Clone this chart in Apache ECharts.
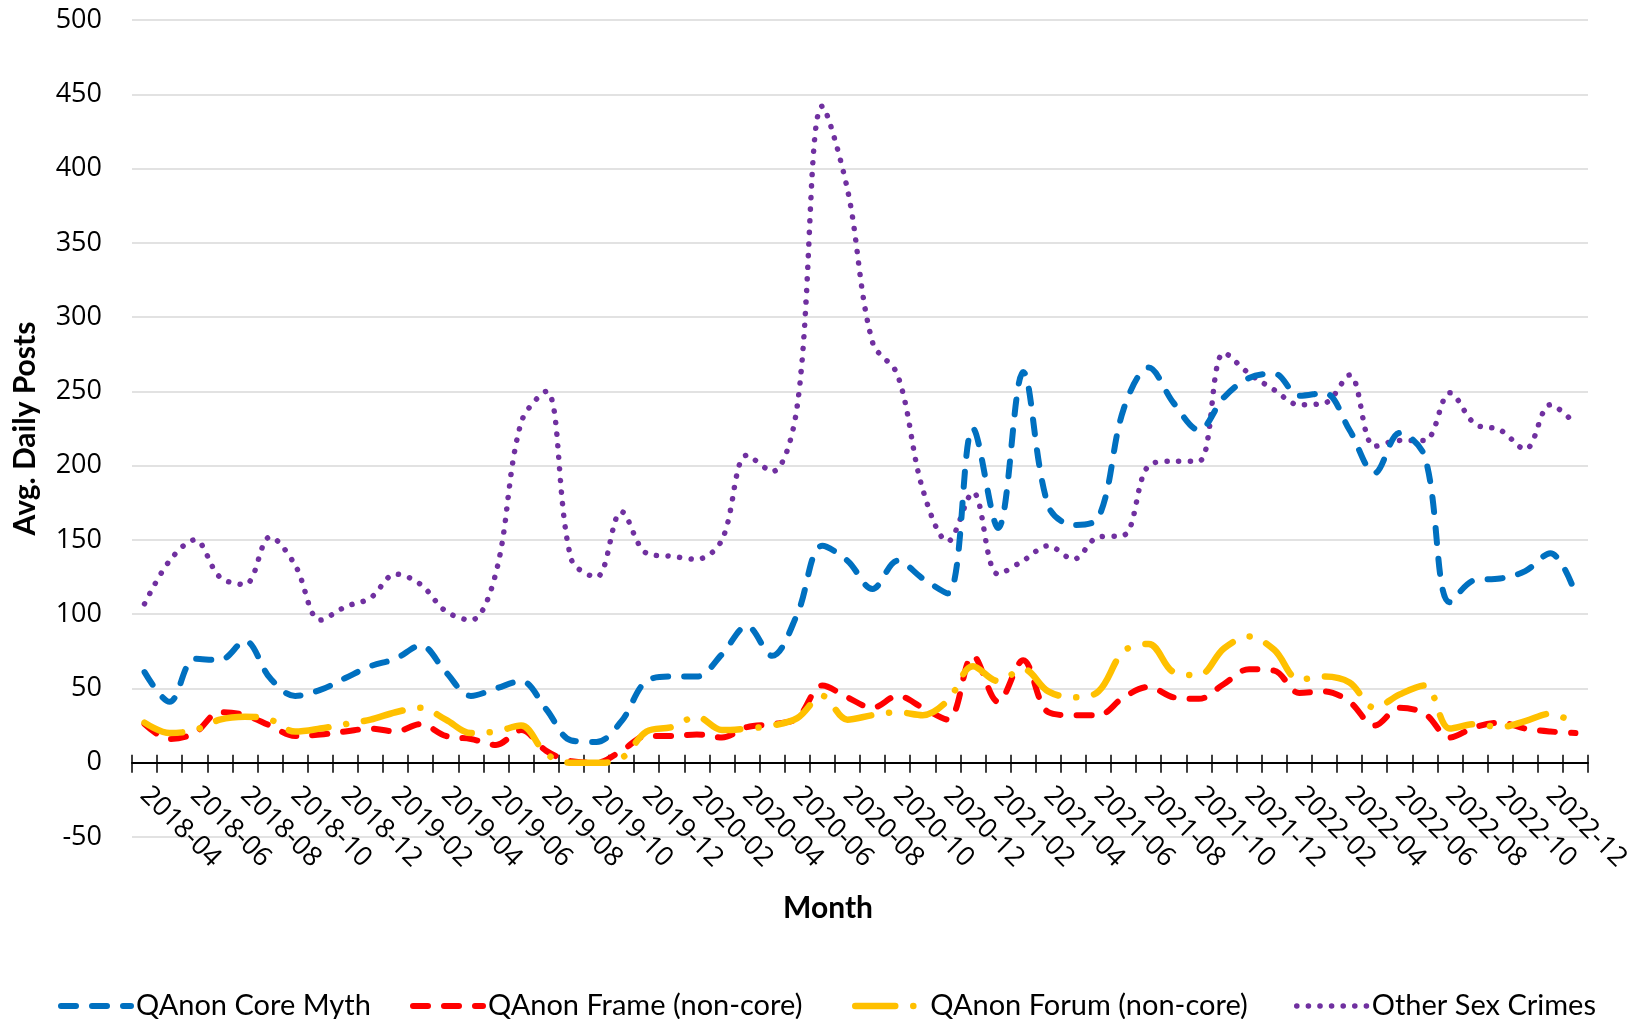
<!DOCTYPE html>
<html>
<head>
<meta charset="utf-8">
<script src="https://cdn.jsdelivr.net/npm/echarts@6/dist/echarts.min.js"></script>
<style>
html,body{margin:0;padding:0;background:#fff;}
#chart{width:1640px;height:1019px;}
</style>
</head>
<body>
<div id="chart"></div>
<script>
const months = [
  '2018-04','2018-05','2018-06','2018-07','2018-08','2018-09','2018-10','2018-11','2018-12',
  '2019-01','2019-02','2019-03','2019-04','2019-05','2019-06','2019-07','2019-08','2019-09','2019-10','2019-11','2019-12',
  '2020-01','2020-02','2020-03','2020-04','2020-05','2020-06','2020-07','2020-08','2020-09','2020-10','2020-11','2020-12',
  '2021-01','2021-02','2021-03','2021-04','2021-05','2021-06','2021-07','2021-08','2021-09','2021-10','2021-11','2021-12',
  '2022-01','2022-02','2022-03','2022-04','2022-05','2022-06','2022-07','2022-08','2022-09','2022-10','2022-11','2022-12',
  '2023-01'
];
const coreMyth = [61,41,70,69,82,57,45,49,57,65,70,79,61,45,50,55,36,15,14,28,55,58,58,73,92,72,100,146,136,117,136,124,114,225,158,263,173,160,165,238,266,242,224,246,259,262,247,249,224,195,222,206,108,123,124,129,141,114];
const frame = [26,16,20,34,32,25,18,19,21,23,21,26,18,16,12,22,8,1,0,8,18,18,19,17,24,26,30,52,44,37,45,37,29,72,41,69,34,32,32,44,51,44,43,53,63,62,47,48,41,25,37,33,17,24,27,23,21,20];
const forum = [27,20,22,29,31,29,21,23,26,29,34,37,29,20,21,25,6,0,0,3,21,24,31,22,23,25,30,45,29,32,34,32,42,65,55,63,48,44,48,75,80,61,59,77,85,76,56,58,54,37,46,52,23,26,24,28,33,26];
const sexCrimes = [107,136,150,125,120,152,133,96,105,111,127,120,102,96,128,229,250,137,125,169,141,139,137,150,207,196,240,442,386,283,261,184,149,182,127,136,146,137,152,153,200,203,203,276,262,251,241,242,261,213,217,217,249,228,224,211,241,228];
const yTicks = {min:-50, max:500, step:50};
const names = ['QAnon Core Myth','QAnon Frame (non-core)','QAnon Forum (non-core)','Other Sex Crimes'];

const styles = [
  {color:'#0070C0', width:6, type:[15,16], cap:'round', join:'round'},
  {color:'#FF0000', width:6, type:[15,16], cap:'round', join:'round'},
  {color:'#FFC000', width:6.5, type:[40,18,0.1,18], cap:'round', join:'round'},
  {color:'#7030A0', width:5.5, type:[0.1,11.5], cap:'round', join:'round'}
];
const values = [coreMyth, frame, forum, sexCrimes];
const legendLefts = [53, 405, 847, 1289];

const gridTop = 20, gridBottom = 182, chartH = 1019;
const zeroOffset = (chartH - gridTop - gridBottom) * (0 - yTicks.min) / (yTicks.max - yTicks.min);

const chart = echarts.init(document.getElementById('chart'), null, {renderer:'canvas'});
chart.setOption({
  backgroundColor:'#ffffff',
  animation:false,
  grid:{left:132, right:52, top:gridTop, bottom:gridBottom, containLabel:false},
  legend: names.map((n,i)=>({
    data:[n], left:legendLefts[i], top:984, orient:'horizontal',
    itemWidth:70, itemHeight:14, itemGap:0,
    lineStyle:{width:styles[i].width},
    itemStyle:{opacity:0},
    textStyle:{fontFamily:'Lato', fontSize:29, color:'#000', lineHeight:34}
  })),
  xAxis:[{
    type:'category', data:months, boundaryGap:true, position:'bottom',
    axisLine:{onZero:true, lineStyle:{color:'#000', width:2}},
    axisTick:{show:true, interval:0, length:10, lineStyle:{color:'#000', width:1.5}},
    axisLabel:{interval:1, rotate:-45, margin:-46, fontFamily:'Open Sans', fontSize:27, color:'#000'},
    splitLine:{show:false},
    name:'Month', nameLocation:'middle', nameGap:56, nameMoveOverlap:false,
    nameTextStyle:{fontFamily:'Lato', fontWeight:'bold', fontSize:30, color:'#000', padding:[0,64,0,0]}
  },{
    type:'category', data:months, boundaryGap:true, position:'bottom', offset:-zeroOffset,
    axisLine:{show:false, onZero:false},
    axisTick:{show:true, inside:true, interval:0, length:8, lineStyle:{color:'#000', width:1.5}},
    axisLabel:{show:false}, splitLine:{show:false}
  }],
  yAxis:{
    type:'value', min:yTicks.min, max:yTicks.max, interval:yTicks.step,
    axisLine:{show:false}, axisTick:{show:false},
    splitLine:{lineStyle:{color:'#D9D9D9', width:1.5}},
    axisLabel:{fontFamily:'Open Sans', fontSize:27, color:'#000', margin:30},
    name:'Avg. Daily Posts', nameLocation:'middle', nameGap:92, nameRotate:90, nameMoveOverlap:false,
    nameTextStyle:{fontFamily:'Lato', fontWeight:'bold', fontSize:30, color:'#000'}
  },
  series: names.map((n,i)=>({
    name:n, type:'line', data:values[i], xAxisIndex:0,
    smooth:0.35, symbol:'none', showSymbol:false,
    lineStyle:styles[i], itemStyle:{color:styles[i].color},
    z: i===3 ? 1 : (i===0 ? 4 : (i===1 ? 2 : 3))
  }))
});
</script>
</body>
</html>
